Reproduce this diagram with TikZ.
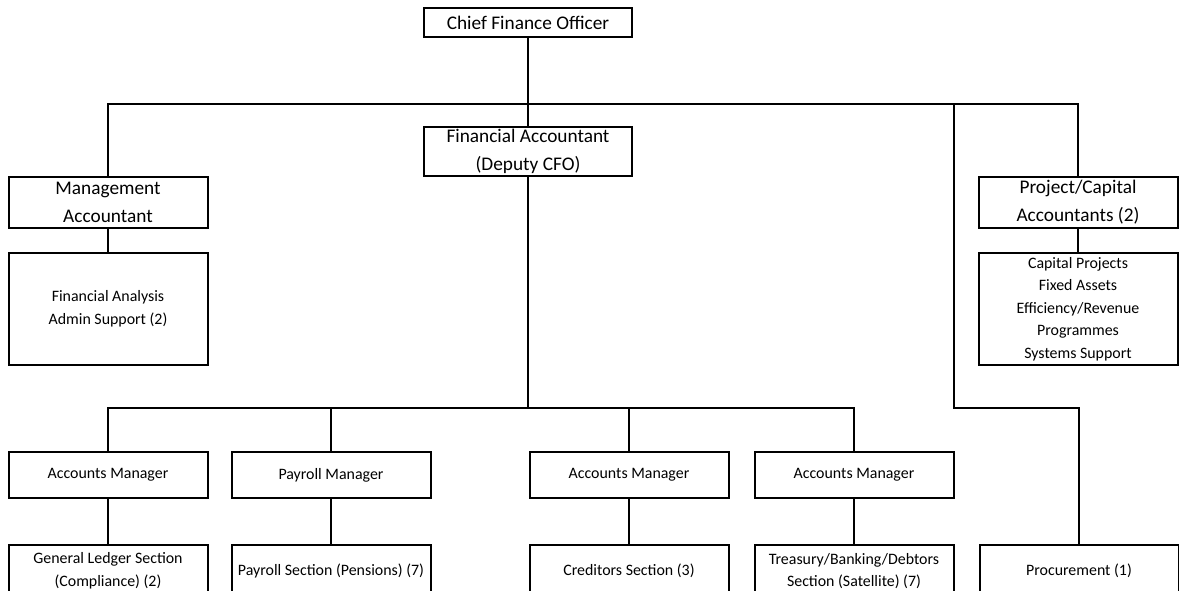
\documentclass[tikz,border=0pt]{standalone}
\usepackage{fontspec}
\setmainfont{Carlito}
\usetikzlibrary{positioning}

\begin{document}
\begin{tikzpicture}[x=1pt, y=-1pt, node distance=23pt,
    box/.style={draw, line width=2, inner sep=0pt, align=center, minimum width=199pt},
    headbox/.style={box, font=\fontsize{19.3}{28}\selectfont},
    unitbox/.style={box, font=\fontsize{15.9}{22.5}\selectfont}]
      \clip (0,0) rectangle (1179,591);
      % nodes %
      \node[headbox, minimum width=208pt, minimum height=29pt] (cfo) at (528,22.5) {Chief Finance Officer};
      \node[headbox, minimum width=208pt, minimum height=49pt] (fa) at (528,151.5) {Financial Accountant\\(Deputy CFO)};
      \node[headbox, minimum height=51pt] (ma) at (108,202.5) {Management\\Accountant};
      \node[headbox, minimum height=51pt] (pc) at (1078,202.5) {Project/Capital\\Accountants (2)};
      \node[unitbox, minimum height=112pt, below=of ma] (fan) {Financial Analysis\\Admin Support (2)};
      \node[unitbox, minimum height=112pt, below=of pc] (cap) {Capital Projects\\Fixed Assets\\Efficiency/Revenue\\Programmes\\Systems Support};
      \node[unitbox, minimum height=46pt] (am1) at (108,475) {Accounts Manager};
      \node[unitbox, minimum height=46pt] (pm) at (331,475) {Payroll Manager};
      \node[unitbox, minimum height=46pt] (am2) at (629,475) {Accounts Manager};
      \node[unitbox, minimum height=46pt] (am3) at (854,475) {Accounts Manager};
      \node[unitbox, minimum height=52pt, below=45pt of am1] (gl) {General Ledger Section\\(Compliance) (2)};
      \node[unitbox, minimum height=52pt, below=45pt of pm] (pay) {Payroll Section (Pensions) (7)};
      \node[unitbox, minimum height=52pt, below=45pt of am2] (cred) {Creditors Section (3)};
      \node[unitbox, minimum height=52pt, below=45pt of am3] (tre) {Treasury/Banking/Debtors\\Section (Satellite) (7)};
      \node[unitbox, minimum height=52pt, right=24pt of tre] (proc) {Procurement (1)};
      \coordinate (top) at (0,104);
      \coordinate (mid) at (0,408);
      \coordinate (pr) at (954,104);
      % edges %
      \draw[line width=2] (cfo) -- (fa);
      \draw[line width=2] (ma.north) |- (pc.north |- top) -- (pc.north);
      \draw[line width=2] (pr) |- (proc.north |- mid) -- (proc.north);
      \draw[line width=2] (ma) -- (fan);
      \draw[line width=2] (pc) -- (cap);
      \draw[line width=2] (fa) -- (fa.south |- mid);
      \draw[line width=2] (am1.north) |- (am3.north |- mid) -- (am3.north);
      \draw[line width=2] (pm.north) -- (pm.north |- mid);
      \draw[line width=2] (am2.north) -- (am2.north |- mid);
      \draw[line width=2] (am1) -- (gl);
      \draw[line width=2] (pm) -- (pay);
      \draw[line width=2] (am2) -- (cred);
      \draw[line width=2] (am3) -- (tre);
    \end{tikzpicture}
\end{document}
